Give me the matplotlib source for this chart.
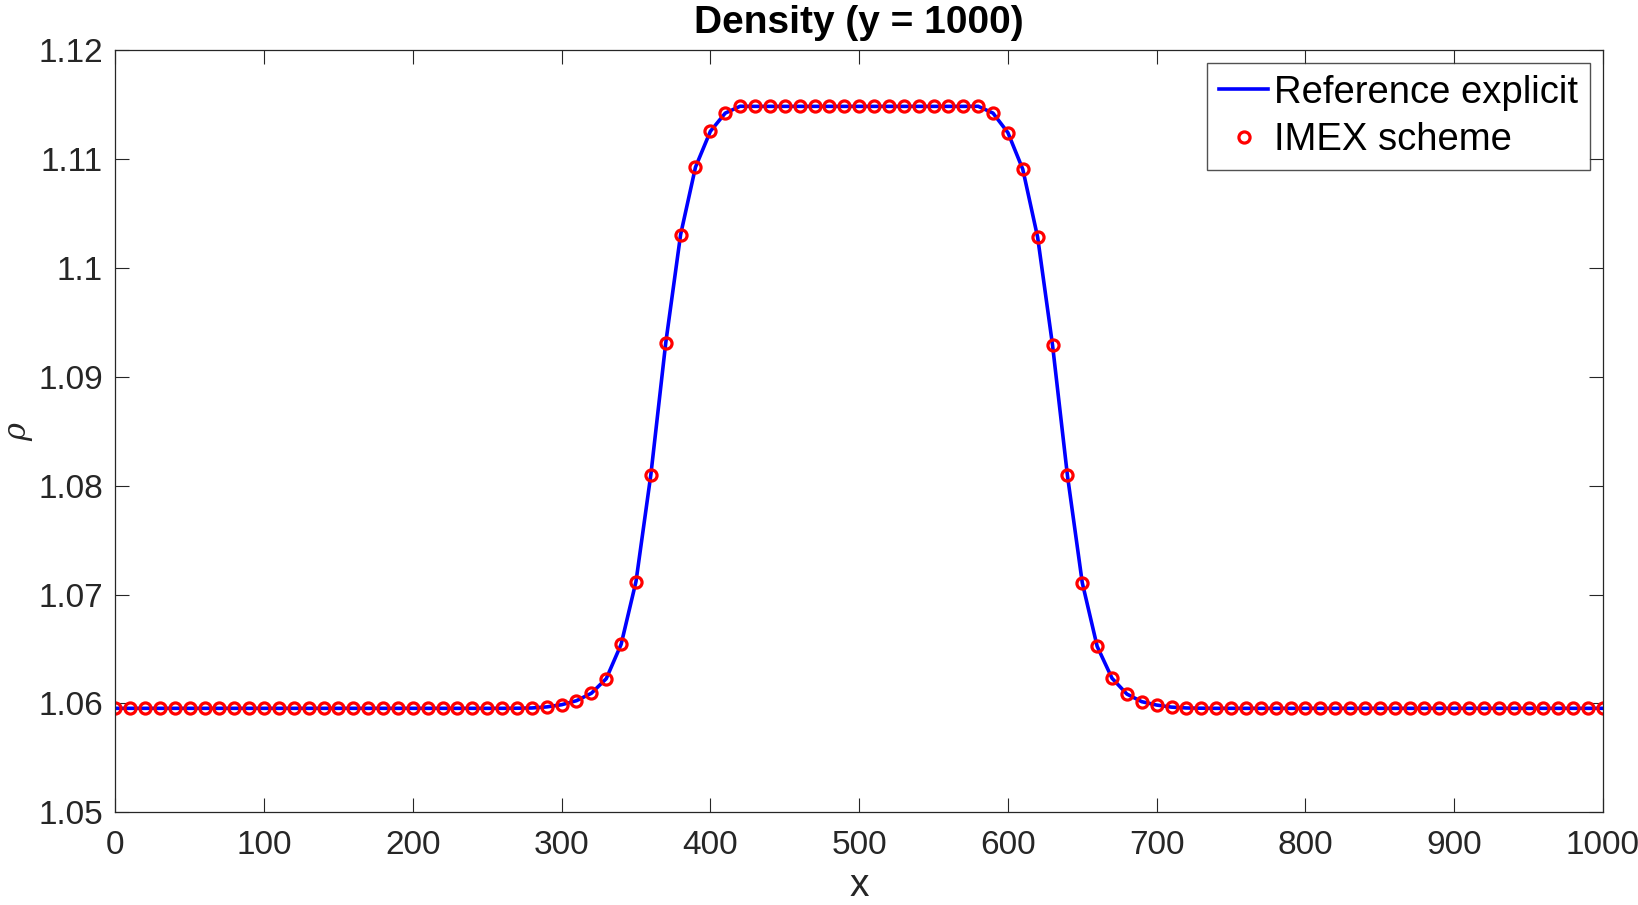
import matplotlib
matplotlib.use('Agg')
import matplotlib.pyplot as plt

# x positions of the IMEX samples and the density values
x = [0, 10, 20, 30, 40, 50, 60, 70, 80, 90,
     100, 110, 120, 130, 140, 150, 160, 170, 180, 190,
     200, 210, 220, 230, 240, 250, 260, 270, 280, 290,
     300, 310, 320, 330, 340, 350, 360, 370, 380, 390,
     400, 410, 420, 430, 440, 450, 460, 470, 480, 490,
     500, 510, 520, 530, 540, 550, 560, 570, 580, 590,
     600, 610, 620, 630, 640, 650, 660, 670, 680, 690,
     700, 710, 720, 730, 740, 750, 760, 770, 780, 790,
     800, 810, 820, 830, 840, 850, 860, 870, 880, 890,
     900, 910, 920, 930, 940, 950, 960, 970, 980, 990,
     1000]

rho_imex = [1.05955, 1.05955, 1.05955, 1.05955, 1.05955, 1.05955, 1.05955, 1.05955, 1.05955, 1.05955,
            1.05955, 1.05955, 1.05955, 1.05955, 1.05955, 1.05955, 1.05955, 1.05955, 1.05955, 1.05955,
            1.05955, 1.05955, 1.05955, 1.05955, 1.05955, 1.05955, 1.05955, 1.05956, 1.05958, 1.05968,
            1.05988, 1.06025, 1.06093, 1.06227, 1.06542, 1.07119, 1.08101, 1.09310, 1.10305, 1.10924,
            1.11253, 1.11420, 1.11483, 1.11482, 1.11482, 1.11482, 1.11482, 1.11482, 1.11482, 1.11482,
            1.11482, 1.11482, 1.11482, 1.11482, 1.11482, 1.11482, 1.11482, 1.11482, 1.11483, 1.11420,
            1.11241, 1.10905, 1.10280, 1.09291, 1.08095, 1.07108, 1.06524, 1.06231, 1.06086, 1.06016,
            1.05985, 1.05966, 1.05958, 1.05956, 1.05955, 1.05955, 1.05955, 1.05955, 1.05955, 1.05955,
            1.05955, 1.05955, 1.05955, 1.05955, 1.05955, 1.05955, 1.05955, 1.05955, 1.05955, 1.05955,
            1.05955, 1.05955, 1.05955, 1.05955, 1.05955, 1.05955, 1.05955, 1.05955, 1.05955, 1.05955,
            1.05955]

rho_ref = rho_imex

xticks = [0, 100, 200, 300, 400, 500, 600, 700, 800, 900, 1000]
yticks = [1.05, 1.06, 1.07, 1.08, 1.09, 1.1, 1.11, 1.12]
ytick_labels = ['1.05', '1.06', '1.07', '1.08', '1.09', '1.1', '1.11', '1.12']

dark = '#262626'
plt.rcParams['font.family'] = ['Liberation Sans', 'DejaVu Sans']
plt.rcParams['mathtext.fontset'] = 'dejavuserif'

fig = plt.figure(figsize=(16.38, 9.05), dpi=100)
ax = fig.add_axes([0.0704, 0.1024, 0.9082, 0.8424])

ax.plot(x, rho_ref, color='#0000ff', linewidth=2.6, label='Reference explicit')
ax.plot(x, rho_imex, linestyle='none', marker='o', markersize=8,
        markerfacecolor='none', markeredgecolor='#ff0000', markeredgewidth=2.3,
        label='IMEX scheme')

ax.set_xlim(0, 1000)
ax.set_ylim(1.05, 1.12)
ax.set_xticks(xticks)
ax.set_yticks(yticks)
ax.set_yticklabels(ytick_labels)

ax.tick_params(direction='in', length=10, width=0.8, colors=dark,
               labelsize=24, top=True, right=True)
ax.tick_params(axis='x', pad=13)
ax.tick_params(axis='y', pad=9)
for s in ax.spines.values():
    s.set_color(dark)
    s.set_linewidth(0.9)

ax.set_title('Density (y = 1000)', fontsize=28, fontweight='bold', pad=12)
ax.set_xlabel('x', fontsize=28, color=dark, labelpad=5)
ax.set_ylabel(r'$\rho$', fontsize=22, color=dark, labelpad=2)

leg = ax.legend(loc='upper right', fontsize=27.5, frameon=True, fancybox=False,
                handlelength=1.3, handletextpad=0.15, borderpad=0.3,
                labelspacing=0.3, borderaxespad=0.35)
leg.get_frame().set_edgecolor(dark)
leg.get_frame().set_linewidth(1.0)

fig.savefig('out.png', dpi=100)
